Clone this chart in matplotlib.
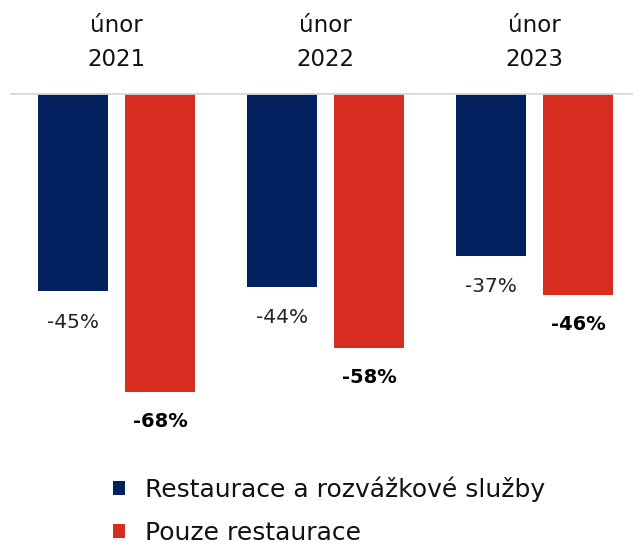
import matplotlib
matplotlib.use("Agg")
import matplotlib.pyplot as plt
from matplotlib.patches import Patch
import numpy as np

categories = ["únor\n2021", "únor\n2022", "únor\n2023"]
series_names = ["Restaurace a rozvážkové služby", "Pouze restaurace"]
restaurace_rozvoz = [-45, -44, -37]
pouze_restaurace = [-68, -58, -46]

navy = "#03215F"
red = "#D62D20"

plt.rcParams['font.family'] = ['DejaVu Sans']

W, H = 633, 545
fig = plt.figure(figsize=(W / 100, H / 100), dpi=100)
ax = fig.add_axes([10 / W, (H - 450) / H, 623 / W, 357 / H])

x = np.arange(len(categories))
bw = 0.335
off = (70 + 17) / 2 / 209

ax.bar(x - off, restaurace_rozvoz, bw, color=navy)
ax.bar(x + off, pouze_restaurace, bw, color=red)

ax.set_xlim(-0.51, 2.47)
ax.set_ylim(-81.1, 0)
ax.axhline(0, color="#D9D9D9", lw=2, zorder=3)
for s in ax.spines.values():
    s.set_visible(False)
ax.set_xticks([])
ax.set_yticks([])

for xi, v in zip(x - off, restaurace_rozvoz):
    ax.annotate(f"{v}%", (xi, v), xytext=(0, -15.5), textcoords="offset points",
                ha="center", va="top", fontsize=14.5, color="#222222")
for xi, v in zip(x + off, pouze_restaurace):
    ax.annotate(f"{v}%", (xi, v), xytext=(0, -14), textcoords="offset points",
                ha="center", va="top", fontsize=14, fontweight="bold", color="#000000")

for xi, c in zip(x, categories):
    ax.annotate(c, (xi, 0), xytext=(0, 16), textcoords="offset points",
                ha="center", va="bottom", fontsize=16.5, color="#111111",
                linespacing=1.6)

handles = [Patch(facecolor=navy), Patch(facecolor=red)]
fig.legend(handles, series_names, loc="upper left",
           bbox_to_anchor=(90 / W, 1 - 454 / H), frameon=False,
           fontsize=18, handlelength=0.5, handleheight=0.5,
           handletextpad=0.8, labelspacing=0.75, labelcolor="#111111")

fig.savefig("out.png", dpi=100)
